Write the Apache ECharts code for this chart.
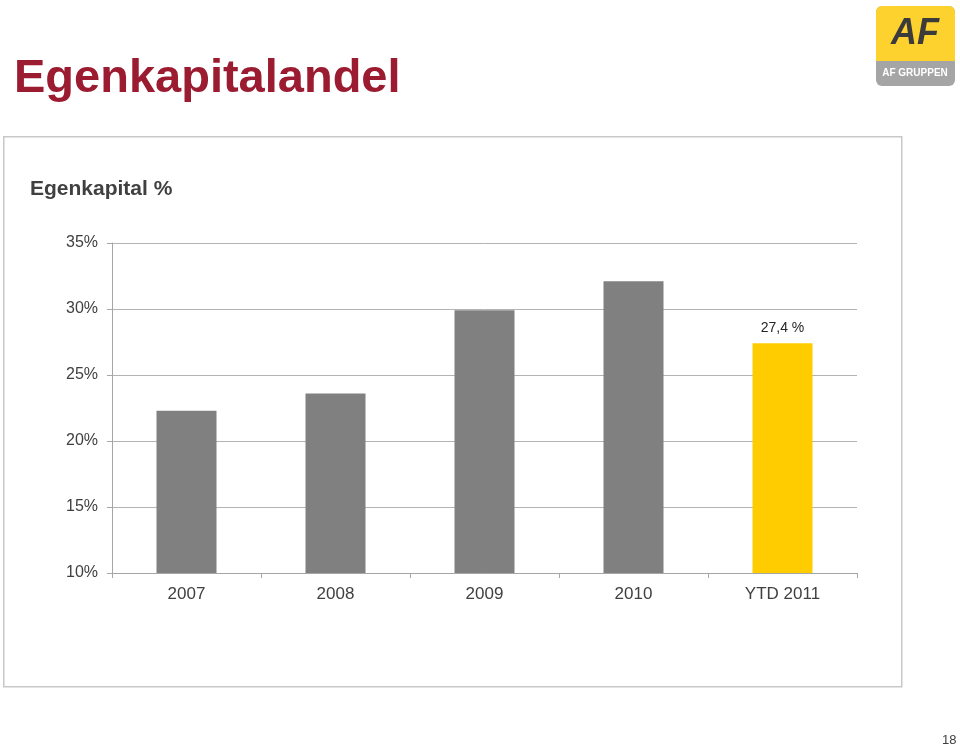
<!DOCTYPE html>
<html>
<head>
<meta charset="utf-8">
<title>Egenkapitalandel</title>
<script src="https://cdn.jsdelivr.net/npm/echarts@6/dist/echarts.min.js"></script>
<style>
    html, body { margin: 0; padding: 0; background: #fff; }
    #main { width: 960px; height: 747px; }
</style>
</head>
<body>
<div id="main"></div>
<script>
// data
var years = ['2007', '2008', '2009', '2010', 'YTD 2011'];
var equityPct = [22.3, 23.6, 29.9, 32.1, 27.4];
var barColors = ['#808080', '#808080', '#808080', '#808080', '#ffcc00'];
var yTicks = [10, 15, 20, 25, 30, 35];

var chart = echarts.init(document.getElementById('main'));

var fontFam = 'Liberation Sans, Arial, sans-serif';

var option = {
    backgroundColor: '#fff',
    animation: false,
    textStyle: { fontFamily: fontFam },
    grid: { left: 112, right: 103, top: 243, bottom: 174 },
    xAxis: {
        type: 'category',
        data: years,
        axisLine: { lineStyle: { color: '#a6a6a6', width: 1 } },
        axisTick: { show: true, length: 5, lineStyle: { color: '#a6a6a6' } },
        axisLabel: { color: '#404040', fontSize: 17, margin: 13 }
    },
    yAxis: {
        type: 'value',
        min: yTicks[0],
        max: yTicks[yTicks.length - 1],
        interval: 5,
        axisLine: { show: true, lineStyle: { color: '#a6a6a6', width: 1 } },
        axisTick: { show: true, length: 5, lineStyle: { color: '#a6a6a6' } },
        axisLabel: { color: '#404040', fontSize: 16, margin: 14, formatter: '{value}%' },
        splitLine: { lineStyle: { color: '#b3b3b3', width: 1 } }
    },
    series: [{
        type: 'bar',
        barWidth: 60,
        data: equityPct.map(function (v, i) {
            var item = { value: v, itemStyle: { color: barColors[i] } };
            if (i === equityPct.length - 1) {
                item.label = {
                    show: true,
                    position: 'top',
                    distance: 8,
                    color: '#262626',
                    fontSize: 14,
                    formatter: function (p) {
                        return p.value.toFixed(1).replace('.', ',') + ' %';
                    }
                };
            }
            return item;
        })
    }],
    graphic: [
        // slide title
        {
            type: 'text', left: 14, top: 56,
            style: { text: 'Egenkapitalandel', fill: '#9b1c31', font: 'bold 47px ' + fontFam }
        },
        // chart frame
        {
            type: 'rect', left: 3, top: 136, z: -1,
            shape: { width: 898, height: 550 },
            style: { fill: '#fff', stroke: '#c8c8c8', lineWidth: 1.5 }
        },
        {
            type: 'text', left: 30, top: 179,
            style: { text: 'Egenkapital %', fill: '#404040', font: 'bold 21px ' + fontFam }
        },
        // logo
        {
            type: 'group', left: 876, top: 6,
            children: [
                { type: 'rect', shape: { x: 0, y: 0, width: 79, height: 80, r: 6 }, style: { fill: '#a5a5a5' } },
                { type: 'rect', shape: { x: 0, y: 0, width: 79, height: 55, r: [6, 6, 0, 0] }, style: { fill: '#fdd22e' } },
                { type: 'text', x: 39, y: 10, style: { text: 'AF', fill: '#3b3b3b', font: 'italic 900 36px ' + fontFam, align: 'center' } },
                { type: 'text', x: 39, y: 62, style: { text: 'AF GRUPPEN', fill: '#fff', font: 'bold 10px ' + fontFam, align: 'center' } }
            ]
        },
        // page number
        {
            type: 'text', left: 942, top: 734,
            style: { text: '18', fill: '#404040', font: '13px ' + fontFam }
        }
    ]
};

chart.setOption(option);
</script>
</body>
</html>
